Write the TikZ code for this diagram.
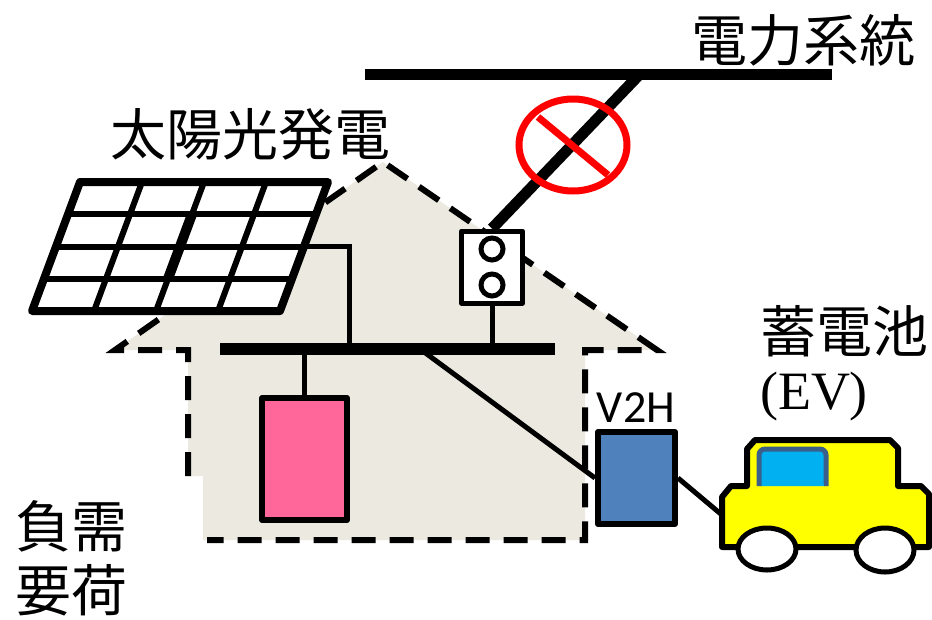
\documentclass[tikz,border=0pt]{standalone}
\usepackage{fontspec}
\setmainfont{Liberation Serif}
\newfontfamily\cjk{Noto Sans CJK JP}
\newfontfamily\lblfont{Carlito}
\usetikzlibrary{calc}

\definecolor{housefill}{HTML}{ECEAE0}
\definecolor{loadpink}{HTML}{FF6699}
\definecolor{vtwohblue}{HTML}{4F81BD}
\definecolor{evyellow}{HTML}{FFFF00}
\definecolor{evglass}{HTML}{00B0F0}
\definecolor{glassrim}{HTML}{3A5F8B}

\tikzset{
  wall/.style={line width=6pt, dash pattern=on 24pt off 14pt},
  wire/.style={line width=5pt},
  heavy/.style={line width=11pt},
  unitbox/.style={draw, line width=6pt, line join=round, inner sep=0pt},
  cjklabel/.style={font=\cjk\fontsize{56}{64}\selectfont, inner sep=0pt},
  panelline/.style={line width=6pt, line cap=round},
  wheel/.style={fill=white, line width=5pt},
}

\begin{document}
\begin{tikzpicture}[x=1pt, y=-1pt]
\useasboundingbox (0,0) rectangle (932,619);

% house body and roof
\fill[housefill] (115,350) -- (383,162) -- (657,350) -- (585,350) -- (585,540)
  -- (203,540) -- (203,476) -- (188,476) -- (188,350) -- cycle;
\draw[wall] (188,476) -- (188,350) -- (115,350) -- (383,162) -- (657,350)
  -- (585,350) -- (585,540) -- (207,540);

% solar panel (parallelogram with a 4x4 cell grid)
\coordinate (pvTL) at (80,182);
\coordinate (pvTR) at (328,182);
\coordinate (pvBR) at (280,311);
\coordinate (pvBL) at (32,311);
\fill[white] (pvTL) -- (pvTR) -- (pvBR) -- (pvBL) -- cycle;
\foreach \i in {1,2,3} {
  \draw[panelline] ($(pvTL)!\i/4!(pvBL)$) -- ($(pvTR)!\i/4!(pvBR)$);
  \draw[panelline] ($(pvTL)!\i/4!(pvTR)$) -- ($(pvBL)!\i/4!(pvBR)$);
}
\draw[line width=10pt] ($(pvTL)!0.5!(pvTR)!0.25!($(pvBL)!0.5!(pvBR)$)$)
  -- ($(pvTL)!0.5!(pvTR)!0.75!($(pvBL)!0.5!(pvBR)$)$);
\draw[line width=8pt, line join=round] (pvTL) -- (pvTR) -- (pvBR) -- (pvBL) -- cycle;
\coordinate (pvout) at ($(pvTR)!0.5!(pvBR)$);

% distribution bus
\coordinate (busL) at (220,349);
\coordinate (busR) at (555,349);
\coordinate (tapPV) at (349,349);
\coordinate (tapLoad) at (304.5,349);
\coordinate (tapMeter) at (492,349);
\coordinate (tapV2H) at (420,349);

% power grid
\coordinate (gridL) at (365,74);
\coordinate (gridR) at (832,74);
\coordinate (gridTap) at (640,74);
\draw[heavy] (gridL) -- (gridR);

% meter
\node[unitbox, line width=5pt, fill=white, minimum width=61pt, minimum height=72pt]
  (meter) at (492,267) {};
\node[draw, circle, line width=5pt, minimum size=22pt, inner sep=0pt] (dialA) at (492,249) {};
\node[draw, circle, line width=5pt, minimum size=22pt, inner sep=0pt] (dialB) at (492,285) {};
\draw[heavy] (gridTap) -- (meter.north);

% prohibition sign on the grid connection
\draw[red, line width=7pt] (573,145) ellipse [x radius=54, y radius=46];
\draw[red, line width=7pt] (538,117) -- (608,175);

% load and V2H units
\node[unitbox, fill=loadpink, minimum width=85pt, minimum height=122pt]
  (load) at (304.5,459) {};
\node[unitbox, fill=vtwohblue, minimum width=77pt, minimum height=92pt]
  (v2h) at (636.5,478) {};

% wiring
\draw[wire] (pvout) -| (tapPV);
\draw[wire] (meter.south) -- (tapMeter);
\draw[wire] (load.north) -- (tapLoad);
\draw[wire] (tapV2H) -- (v2h.west);
\draw[line width=12pt] (busL) -- (busR);

% electric vehicle
\coordinate (evPlug) at (722,515);
\draw[wire] (v2h.east) -- (evPlug);
\draw[fill=evyellow, line width=6pt, line join=round]
  (722,497) -- (731,486) -- (747,486) -- (747,449) -- (755,440) -- (890,440)
  -- (898,448) -- (898,486) -- (921,486) -- (929,494) -- (929,547) -- (722,547) -- cycle;
\draw[fill=evglass, draw=glassrim, line width=5pt, rounded corners=6pt]
  (759,486) -- (759,449) -- (826,449) -- (826,486);
\draw[fill=evglass, draw=none] (761.5,484) rectangle (823.5,486);
\draw[wheel] (767,549) ellipse [x radius=29, y radius=21];
\draw[wheel] (885,550) ellipse [x radius=29, y radius=22];

% labels
\node[cjklabel] (lblGrid) at (803,40) {電力系統};
\node[cjklabel] (lblPV) at (250,134) {太陽光発電};
\node[cjklabel] (lblBat) at (844,331) {蓄電池};
\node[font=\fontsize{54}{60}\selectfont, inner sep=0pt] (lblEV) at (814,397) {(EV)};
\node[font=\lblfont\fontsize{46}{50}\selectfont, inner sep=0pt] (lblV2H) at (636,408) {V2H};
\node[cjklabel, align=left] (lblLoad) at (72,558) {負需\\要荷};
\end{tikzpicture}
\end{document}
